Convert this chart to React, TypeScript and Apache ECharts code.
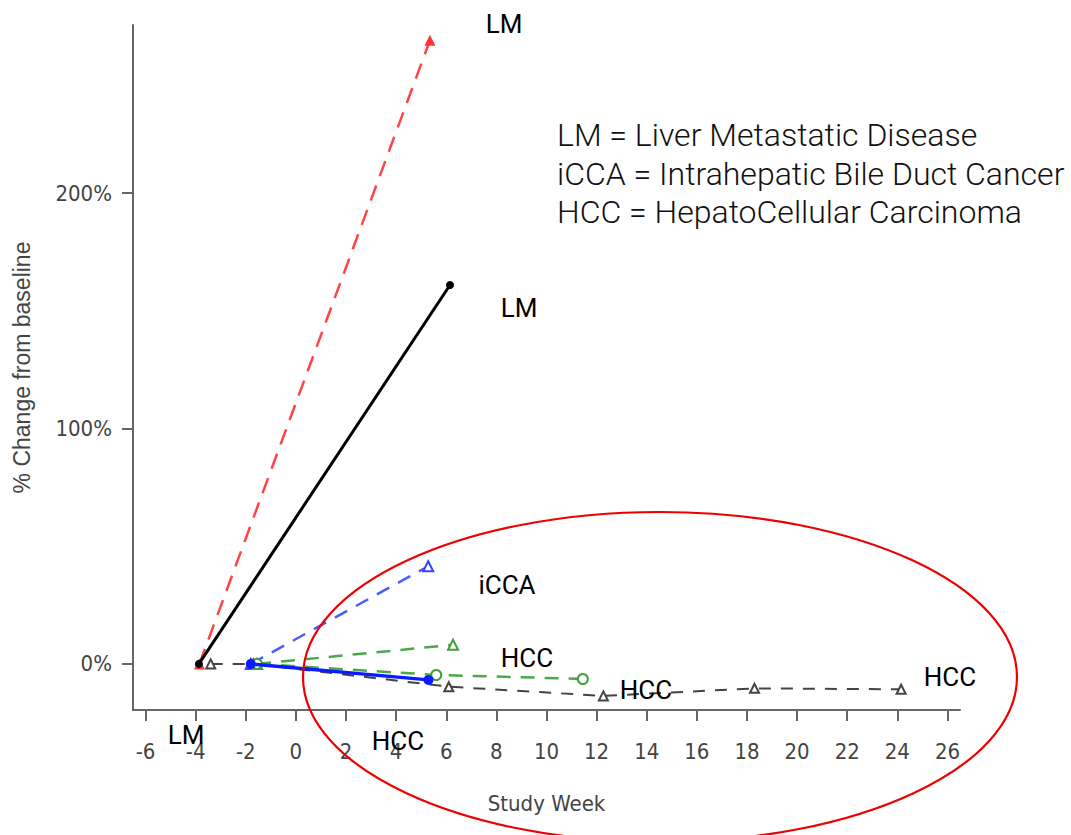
import React, { useEffect, useRef } from "react";
import * as echarts from "echarts";

// Axis ticks
const xTicks = [-6, -4, -2, 0, 2, 4, 6, 8, 10, 12, 14, 16, 18, 20, 22, 24, 26];
const yTicks = [0, 100, 200];

// LM patient 1 (red dashed)
const lmRedWeeks = [-3.85, 5.35];
const lmRedPct = [0, 265];
// LM patient 2 (black solid)
const lmBlackWeeks = [-3.87, 6.15];
const lmBlackPct = [0, 161];
// iCCA patient (blue dashed)
const iccaWeeks = [-1.8, 5.28];
const iccaPct = [0, 41.5];
// HCC patient (green dashed, triangles)
const hccGreenTriWeeks = [-1.55, 6.27];
const hccGreenTriPct = [0, 8.1];
// HCC patient (green dashed, circles)
const hccGreenCircWeeks = [-1.55, 5.6, 11.45];
const hccGreenCircPct = [0, -4.7, -6.4];
// HCC patient (blue solid)
const hccBlueWeeks = [-1.8, 5.29];
const hccBluePct = [0, -6.8];
// HCC patient (black dashed, triangles)
const hccBlackWeeks = [-3.4, -1.7, 6.1, 12.27, 18.3, 24.15];
const hccBlackPct = [0, 0, -9.7, -13.6, -10.4, -10.8];

const legendLines = [
  "LM = Liver Metastatic Disease",
  "iCCA = Intrahepatic Bile Duct Cancer",
  "HCC = HepatoCellular Carcinoma",
];

const zip = (xs: number[], ys: number[]) => xs.map((x, i) => [x, ys[i]]);

const tickFont = "'Liberation Sans Narrow', 'DejaVu Sans Condensed', 'Liberation Sans', sans-serif";

export default function App() {
  const ref = useRef<HTMLDivElement>(null);
  useEffect(() => {
    if (!ref.current) return;
    const chart = echarts.init(ref.current, undefined, { renderer: "svg" });
    const annot = (text: string, x: number, y: number) => ({
      type: "text",
      x,
      y,
      z: 50,
      style: {
        text,
        fontSize: 26,
        fontFamily: "Roboto, sans-serif",
        fill: "#000",
        textAlign: "center",
        textVerticalAlign: "middle",
      },
    });
    chart.setOption({
      animation: false,
      backgroundColor: "#fff",
      grid: { left: 133, right: 111, top: 25, bottom: 125 },
      xAxis: {
        type: "value",
        min: -6.5,
        max: 26.5,
        name: "Study Week",
        nameLocation: "middle",
        nameGap: 82,
        nameTextStyle: { fontSize: 22, color: "#444", fontFamily: tickFont },
        axisLine: { onZero: false, lineStyle: { color: "#666", width: 2 } },
        axisTick: { show: true, length: 11, customValues: xTicks, lineStyle: { color: "#666", width: 2 } },
        axisLabel: {
          customValues: xTicks,
          margin: 30,
          fontSize: 22,
          color: "#444",
          fontFamily: tickFont,
        },
        splitLine: { show: false },
      },
      yAxis: {
        type: "value",
        min: -19.6,
        max: 271.5,
        name: "% Change from baseline",
        nameLocation: "middle",
        nameGap: 100,
        nameRotate: 90,
        nameTextStyle: { fontSize: 23, color: "#444", fontFamily: "'Liberation Sans', sans-serif" },
        axisLine: { show: true, onZero: false, lineStyle: { color: "#666", width: 2 } },
        axisTick: { show: true, length: 11, customValues: yTicks, lineStyle: { color: "#666", width: 2 } },
        axisLabel: {
          customValues: yTicks,
          margin: 21,
          fontSize: 22,
          color: "#444",
          fontFamily: tickFont,
          formatter: (v: number) => `${v}%`,
        },
        splitLine: { show: false },
      },
      series: [
        {
          name: "HCC black",
          type: "line",
          data: zip(hccBlackWeeks, hccBlackPct),
          symbol: "emptyTriangle",
          symbolSize: 9,
          lineStyle: { color: "#444", width: 2, type: [12, 10] },
          itemStyle: { color: "#444", borderWidth: 1.5 },
          z: 2,
        },
        {
          name: "LM red",
          type: "line",
          data: zip(lmRedWeeks, lmRedPct),
          symbol: "triangle",
          symbolSize: 11,
          lineStyle: { color: "#ff4444", width: 2.5, type: [16, 10] },
          itemStyle: { color: "#ff3333" },
          z: 3,
        },
        {
          name: "LM black",
          type: "line",
          data: zip(lmBlackWeeks, lmBlackPct),
          symbol: "circle",
          symbolSize: 8,
          lineStyle: { color: "#000", width: 3 },
          itemStyle: { color: "#000" },
          z: 4,
        },
        {
          name: "iCCA",
          type: "line",
          data: zip(iccaWeeks, iccaPct),
          symbol: "emptyTriangle",
          symbolSize: 10,
          lineStyle: { color: "#4a5cff", width: 2.5, type: [14, 10] },
          itemStyle: { color: "#3344ff", borderWidth: 2 },
          z: 3,
        },
        {
          name: "HCC green tri",
          type: "line",
          data: zip(hccGreenTriWeeks, hccGreenTriPct),
          symbol: "emptyTriangle",
          symbolSize: 10,
          lineStyle: { color: "#4aa84a", width: 2.5, type: [14, 10] },
          itemStyle: { color: "#3f9f3f", borderWidth: 2 },
          z: 3,
        },
        {
          name: "HCC green circ",
          type: "line",
          data: zip(hccGreenCircWeeks, hccGreenCircPct),
          symbol: "emptyCircle",
          symbolSize: 10,
          lineStyle: { color: "#4aa84a", width: 2.5, type: [14, 10] },
          itemStyle: { color: "#3f9f3f", borderWidth: 2 },
          z: 3,
        },
        {
          name: "HCC blue",
          type: "line",
          data: zip(hccBlueWeeks, hccBluePct),
          symbol: "circle",
          symbolSize: 10,
          lineStyle: { color: "#0a1cff", width: 3.5 },
          itemStyle: { color: "#0a1cff" },
          z: 5,
        },
      ],
      graphic: [
        annot("LM", 504, 24),
        annot("LM", 519, 308),
        annot("iCCA", 507, 585),
        annot("HCC", 527, 658),
        annot("HCC", 646, 690),
        annot("HCC", 950, 677),
        annot("HCC", 398, 741),
        annot("LM", 186, 735),
        ...legendLines.map((t, i) => ({
          type: "text",
          x: 557,
          y: 135 + i * 38.5,
          z: 50,
          style: {
            text: t,
            fontSize: 32,
            fontWeight: 300,
            fontFamily: "Roboto, sans-serif",
            fill: "#111",
            textAlign: "left",
            textVerticalAlign: "middle",
          },
        })),
        {
          type: "ellipse",
          z: 100,
          shape: { cx: 660, cy: 677, rx: 357, ry: 165 },
          style: { fill: "none", stroke: "#ee0000", lineWidth: 2.2 },
        },
      ],
    });
    return () => chart.dispose();
  }, []);
  return (
    <div
      ref={ref}
      style={{ position: "absolute", left: 0, top: 0, width: 1071, height: 835 }}
    />
  );
}
